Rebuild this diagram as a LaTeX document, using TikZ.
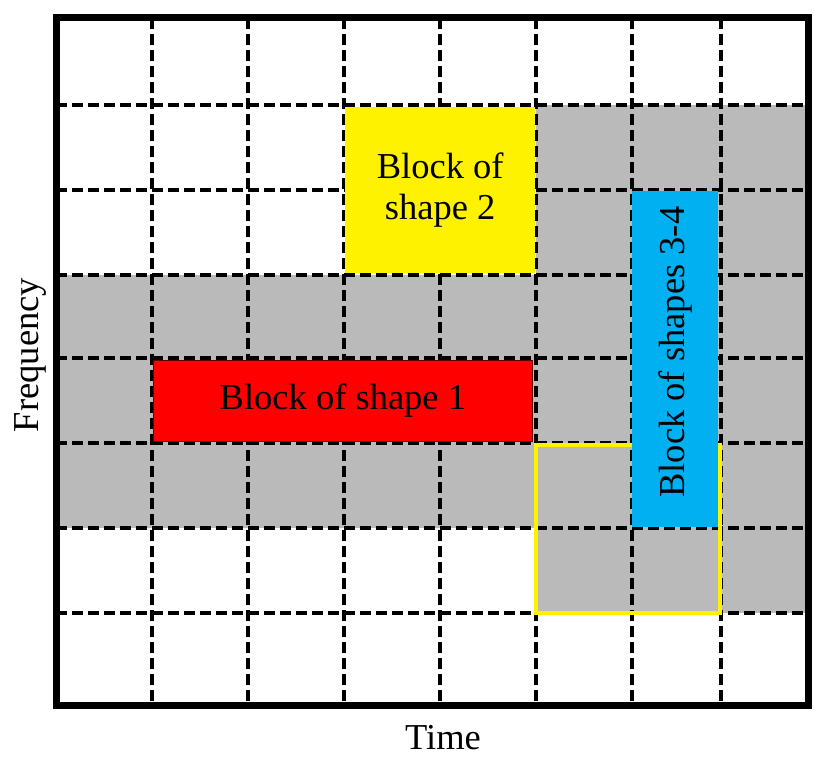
\documentclass[tikz,border=0pt]{standalone}
\usepackage{fontspec}
\setmainfont{Liberation Serif}
\definecolor{officeblue}{HTML}{00B0F0}
\begin{document}
\begin{tikzpicture}[x=1pt,y=-1pt,
  gridline/.style={line width=3.6pt,dash pattern=on 11pt off 5pt},
  lbl/.style={font=\fontsize{36.5}{41}\selectfont,inner sep=0pt,align=center}]
\useasboundingbox (0,0) rectangle (830,762);
% gray cells
\fill[black!27] (536,105) rectangle (808,275);
\fill[black!27] (56,275) rectangle (808,528);
\fill[black!27] (536,528) rectangle (808,613);
% grid
\foreach \x in {152,248,344,440,536,632,721}
  \draw[gridline] (\x,18) -- (\x,705);
\foreach \y in {105,190,275,358,443,528,613}
  \draw[gridline] (56,\y) -- (808,\y);
% yellow outline
\draw[yellow,line width=4.5pt] (536,445) rectangle (720,613);
% blocks
\node[fill=yellow,minimum width=190pt,minimum height=166pt,inner sep=0pt,anchor=north west,lbl] (b2) at (345,107) {Block of\\shape 2};
\node[fill=red,draw=black!60!red,line width=0.8pt,minimum width=379pt,minimum height=81pt,inner sep=0pt,anchor=north west,lbl] (b1) at (153,360) {Block of shape 1};
\node[fill=officeblue,minimum width=86pt,minimum height=336pt,inner sep=0pt,anchor=north west] (b34) at (632,191) {};
\node[lbl,rotate=90] (b34t) at ([yshift=7pt]b34.center) {Block of shapes 3-4};
% border
\draw[line width=7pt] (56,18) rectangle (808,705);
% axis labels
\node[lbl] (time) at (443,738) {Time};
\node[lbl,rotate=90] (freq) at (30,355) {Frequency};
\end{tikzpicture}
\end{document}
